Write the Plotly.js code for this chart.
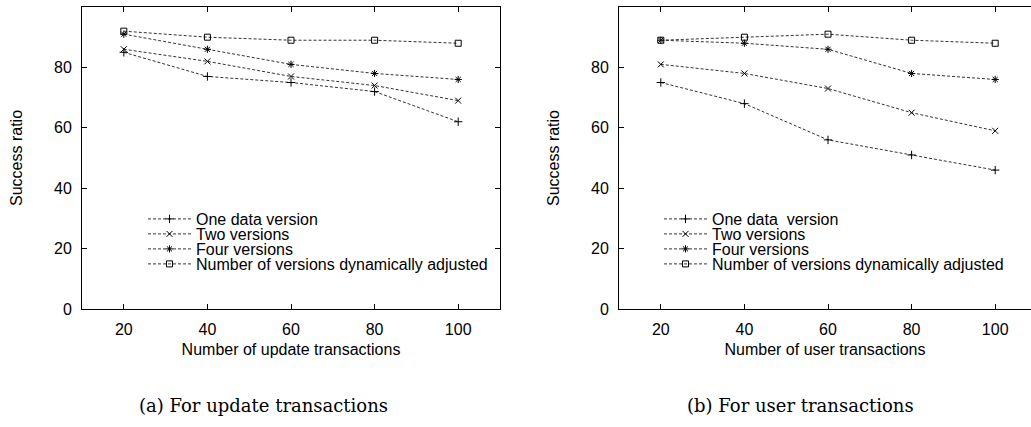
<!DOCTYPE html>
<html>
<head>
<meta charset="utf-8">
<script src="https://cdn.plot.ly/plotly-3.0.1.min.js"></script>
<style>html,body{margin:0;padding:0;background:#fff;}#chart{width:1031px;height:427px;}</style>
</head>
<body>
<div id="chart"></div>
<script>
// ---- data ----
var transactions = [20, 40, 60, 80, 100];
var seriesNamesA = ["One data version", "Two versions", "Four versions", "Number of versions dynamically adjusted"];
var seriesNamesB = ["One data\u00a0 version", "Two versions", "Four versions", "Number of versions dynamically adjusted"];
var updOne  = [85, 77, 75, 72, 62];
var updTwo  = [86, 82, 77, 74, 69];
var updFour = [91, 86, 81, 78, 76];
var updDyn  = [92, 90, 89, 89, 88];
var usrOne  = [75, 68, 56, 51, 46];
var usrTwo  = [81, 78, 73, 65, 59];
var usrFour = [89, 88, 86, 78, 76];
var usrDyn  = [89, 90, 91, 89, 88];
var xTicks = [20, 40, 60, 80, 100];
var yTicks = [0, 20, 40, 60, 80, 100];
var captionA = "(a) For update transactions";
var captionB = "(b) For user transactions";
var xTitleA = "Number of update transactions";
var xTitleB = "Number of user transactions";
var yTitle = "Success ratio";

// ---- styles ----
var symbols = ["cross-thin-open", "x-thin-open", "asterisk-open", "square-open"];
var W = 1031, H = 427;
function mk(x, y, name, i, xa, ya, leg) {
  return {
    x: x, y: y, name: name, type: "scatter", mode: "lines+markers",
    xaxis: xa, yaxis: ya, legend: leg, showlegend: true,
    line: {color: "#333", width: 1, dash: "3px,2px"},
    marker: {symbol: symbols[i], size: i === 3 ? 6 : 6, color: "#000", line: {color: "#000", width: 1}}
  };
}
var A = [updOne, updTwo, updFour, updDyn];
var B = [usrOne, usrTwo, usrFour, usrDyn];
var traces = [];
for (var i = 0; i < 4; i++) traces.push(mk(transactions, A[i], seriesNamesA[i], i, "x", "y", i === 0 ? "legend" : "legend" + (i + 1)));
for (var j = 0; j < 4; j++) traces.push(mk(transactions, B[j], seriesNamesB[j], j, "x2", "y2", "legend" + (j + 5)));

var font = {family: "Liberation Sans, Arial, sans-serif", size: 16, color: "#000"};
function xaxis(domain, range, title, mirror) {
  return {domain: domain, range: range, tickvals: xTicks, ticks: "inside", ticklen: 5, tickcolor: "#000",
    showline: true, linecolor: "#000", linewidth: 1, mirror: mirror, showgrid: false, zeroline: false,
    tickfont: font, ticklabelstandoff: 6, title: {text: title, font: font, standoff: 6}, automargin: false};
}
function yaxis(domain, anchor, mirror) {
  return {domain: domain, range: [0, 100], tickvals: yTicks, ticks: "inside", ticklen: 5, tickcolor: "#000",
    showline: true, linecolor: "#000", linewidth: 1, mirror: mirror, showgrid: false, zeroline: false,
    anchor: anchor, tickfont: font, ticklabelstandoff: 6, title: {text: yTitle, font: font, standoff: 27}, automargin: false};
}
var yDom = [(H - 309) / H, (H - 7) / H];
var layout = {
  width: W, height: H, margin: {l: 0, r: 0, t: 0, b: 0},
  paper_bgcolor: "#fff", plot_bgcolor: "#fff", showlegend: true,
  xaxis: xaxis([82 / W, 500 / W], [10, 110], xTitleA, "ticks"),
  yaxis: yaxis(yDom, "x", "ticks"),
  xaxis2: xaxis([619 / W, 1], [10, 10 + 412 / 4.18], xTitleB, "ticks"),
  yaxis2: yaxis(yDom, "x2", false),
  annotations: [
    {text: captionA, xref: "paper", yref: "paper", x: 263 / W, y: 1 - 405 / H, xanchor: "center", yanchor: "middle", showarrow: false,
     font: {family: "DejaVu Serif, serif", size: 18, color: "#000"}},
    {text: captionB, xref: "paper", yref: "paper", x: 800 / W, y: 1 - 405 / H, xanchor: "center", yanchor: "middle", showarrow: false,
     font: {family: "DejaVu Serif, serif", size: 18, color: "#000"}}
  ]
};
var rows = [219, 234, 249, 264];
var legFont = {family: "Liberation Sans, Arial, sans-serif", size: 16, color: "#000"};
for (var k = 0; k < 8; k++) {
  var key = k === 0 ? "legend" : "legend" + (k + 1);
  var left = k < 4 ? 143 : 659;
  layout[key] = {x: left / W, y: 1 - rows[k % 4] / H, xanchor: "left", yanchor: "middle",
    bgcolor: "rgba(0,0,0,0)", borderwidth: 0, font: legFont, itemwidth: 43, xref: "paper", yref: "paper"};
}
Plotly.newPlot("chart", traces, layout, {staticPlot: true, displayModeBar: false});
</script>
</body>
</html>
